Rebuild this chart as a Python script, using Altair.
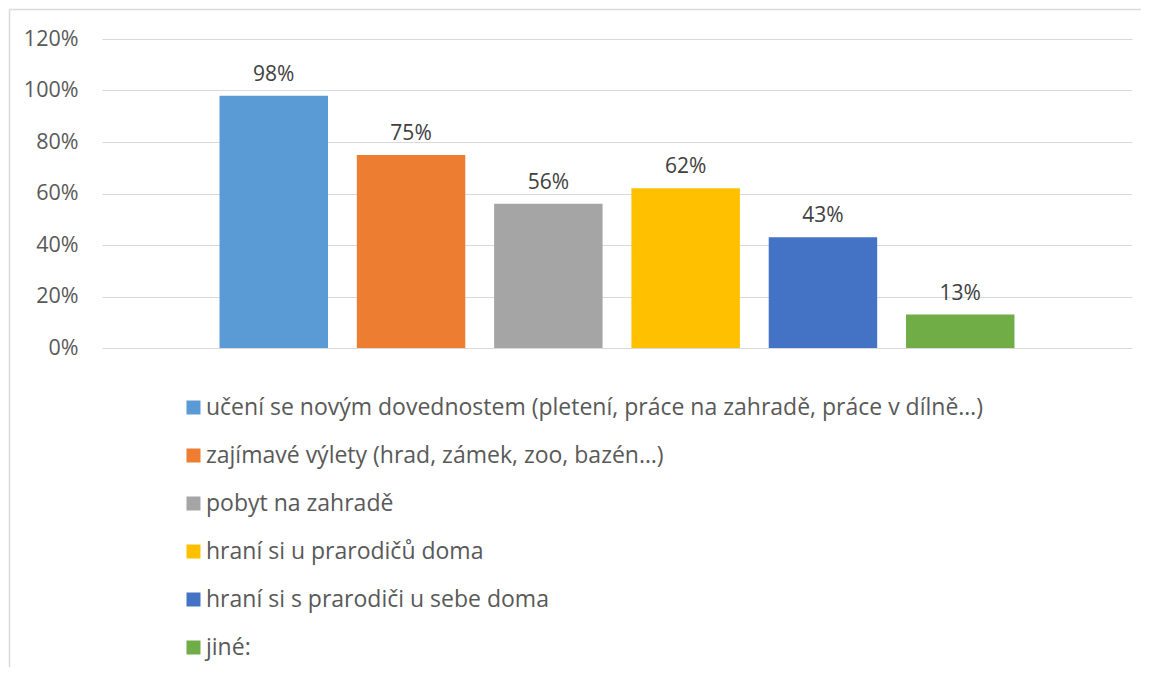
import altair as alt
import pandas as pd

categories = [
    "učení se novým dovednostem (pletení, práce na zahradě, práce v dílně…)",
    "zajímavé výlety (hrad, zámek, zoo, bazén…)",
    "pobyt na zahradě",
    "hraní si u prarodičů doma",
    "hraní si s prarodiči u sebe doma",
    "jiné:",
]
values = [0.98, 0.75, 0.56, 0.62, 0.43, 0.13]
colors = ["#5B9BD5", "#ED7D31", "#A5A5A5", "#FFC000", "#4472C4", "#70AD47"]
y_ticks = [0, 0.2, 0.4, 0.6, 0.8, 1.0, 1.2]

df = pd.DataFrame({"cat": categories, "val": values})

FONT = "Open Sans"
W, H = 1030, 309

x_enc = alt.X(
    "cat:N",
    sort=categories,
    axis=None,
    scale=alt.Scale(paddingInner=0.21, paddingOuter=0.856),
)
y_enc = alt.Y(
    "val:Q",
    scale=alt.Scale(domain=[0, 1.2], nice=False),
    axis=alt.Axis(
        values=y_ticks,
        format=".0%",
        title=None,
        domain=False,
        ticks=False,
        grid=True,
        gridColor="#D9D9D9",
        gridWidth=1,
        labelFont=FONT,
        labelFontSize=21.5,
        labelColor="#595959",
        labelPadding=24,
    ),
)

bars = alt.Chart(df).mark_bar().encode(
    x=x_enc,
    y=y_enc,
    color=alt.Color(
        "cat:N",
        sort=categories,
        scale=alt.Scale(domain=categories, range=colors),
        legend=alt.Legend(
            title=None,
            orient="none",
            legendX=80,
            legendY=357,
            direction="vertical",
            symbolType="square",
            symbolSize=196,
            symbolStrokeWidth=0,
            symbolOpacity=1,
            labelFont=FONT,
            labelFontSize=23,
            labelColor="#595959",
            labelLimit=0,
            labelOffset=1,
            rowPadding=24,
        ),
    ),
)

labels = alt.Chart(df).mark_text(
    baseline="bottom", dy=-11, font=FONT, fontSize=21, color="#404040"
).encode(
    x=x_enc,
    y=alt.Y("val:Q"),
    text=alt.Text("val:Q", format=".0%"),
)

border_df = pd.DataFrame({"a": [0]})
top_border = alt.Chart(border_df).mark_rule(color="#D9D9D9", strokeWidth=1.5).encode(
    x=alt.value(-92.5), x2=alt.value(1040), y=alt.value(-29.5)
)
left_border = alt.Chart(border_df).mark_rule(color="#D9D9D9", strokeWidth=1.5).encode(
    x=alt.value(-92.5), y=alt.value(-29.5), y2=alt.value(630)
)

chart = (
    alt.layer(top_border, left_border, bars, labels)
    .properties(
        width=W,
        height=H,
        autosize=alt.AutoSizeParams(type="none"),
        padding={"left": 94, "top": 31, "right": 9, "bottom": 319},
    )
    .configure_view(stroke=None)
)

chart.save("out.html", embed_options={"renderer": "svg", "actions": False})
